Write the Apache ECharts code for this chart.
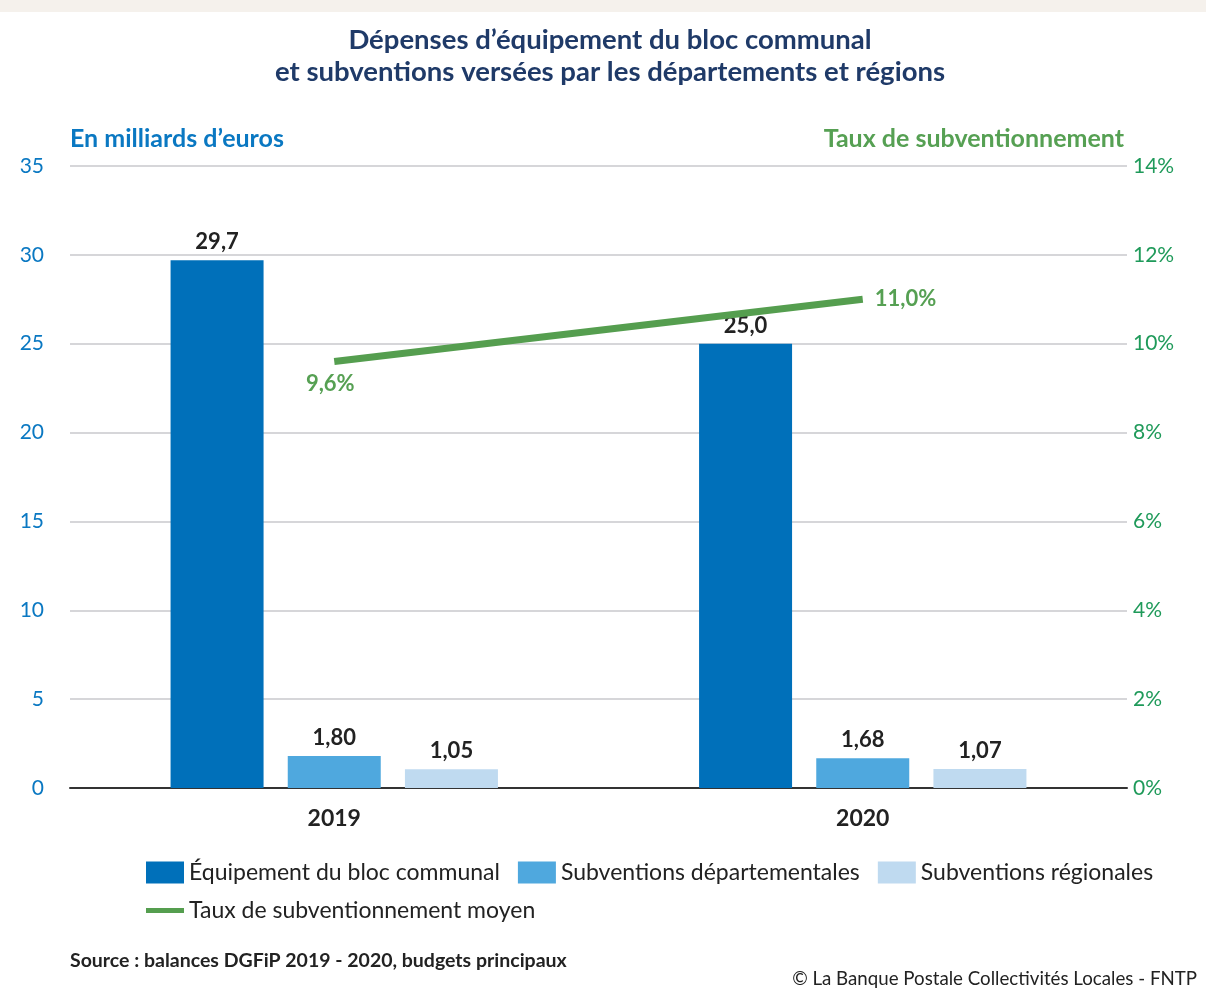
<!DOCTYPE html>
<html>
<head>
<meta charset="utf-8">
<script src="https://cdn.jsdelivr.net/npm/echarts@6/dist/echarts.min.js"></script>
<style>
  html, body { margin: 0; padding: 0; background: #fff; }
  #chart { width: 1206px; height: 1005px; }
</style>
</head>
<body>
<div id="chart"></div>
<script>
const years = ['2019', '2020']
const equipement = [29.7, 25.0]
const subvDep = [1.80, 1.68]
const subvReg = [1.05, 1.07]
const tauxMoyen = [9.6, 11.0]
const leftTicks = { min: 0, max: 35, interval: 5 }
const rightTicks = { min: 0, max: 14, interval: 2 }

const FONT = 'Lato, "Open Sans", sans-serif'
const fr = (v, d) => v.toFixed(d).replace('.', ',')

const chart = echarts.init(document.getElementById('chart'))

function barSeries(name, data, color, decimals) {
  return {
    name: name,
    type: 'bar',
    data: data,
    barWidth: 93,
    barGap: '26%',
    itemStyle: { color: color },
    label: {
      show: true,
      position: 'top',
      distance: 7,
      color: '#222',
      fontFamily: FONT,
      fontWeight: 'bold',
      fontSize: 22,
      formatter: p => fr(p.value, decimals)
    }
  }
}

chart.setOption({
  animation: false,
  textStyle: { fontFamily: FONT },
  title: [{
    text: 'En milliards d’euros',
    left: 70,
    top: 126,
    padding: 0,
    textStyle: { color: '#0a78c2', fontSize: 25, fontWeight: 'bold', fontFamily: FONT }
  }, {
    text: 'Taux de subventionnement',
    right: 82,
    top: 126,
    padding: 0,
    textStyle: { color: '#56a053', fontSize: 25, fontWeight: 'bold', fontFamily: FONT }
  }, {
    text: 'Source : balances DGFiP 2019 - 2020, budgets principaux',
    left: 70,
    top: 951,
    padding: 0,
    textStyle: { color: '#222', fontSize: 19.5, fontWeight: 'bold', fontFamily: FONT }
  }, {
    text: '© La Banque Postale Collectivités Locales - FNTP',
    right: 9,
    top: 969,
    padding: 0,
    textStyle: { color: '#222', fontSize: 18.7, fontWeight: 'normal', fontFamily: FONT }
  }],
  graphic: [{
    type: 'rect',
    left: 0,
    top: 0,
    shape: { width: 1206, height: 12 },
    style: { fill: '#f5f1ec' }
  }, {
    type: 'text',
    x: 610,
    y: 24,
    style: {
      text: 'Dépenses d’équipement du bloc communal\net subventions versées par les départements et régions',
      align: 'center',
      verticalAlign: 'top',
      fill: '#1f3a68',
      font: 'bold 27.5px Lato, sans-serif',
      lineHeight: 32
    }
  }],
  legend: [{
    left: 146,
    top: 861,
    padding: 0,
    itemWidth: 38,
    itemHeight: 22,
    itemGap: 18,
    icon: 'rect',
    textStyle: { color: '#222', fontSize: 23, fontFamily: FONT },
    data: ['Équipement du bloc communal', 'Subventions départementales', 'Subventions régionales']
  }, {
    left: 146,
    top: 899,
    padding: 0,
    itemWidth: 38,
    itemHeight: 5,
    icon: 'rect',
    textStyle: { color: '#222', fontSize: 23, fontFamily: FONT },
    data: ['Taux de subventionnement moyen']
  }],
  grid: { left: 70, right: 79, top: 166, bottom: 217 },
  xAxis: {
    type: 'category',
    data: years,
    axisLine: { lineStyle: { color: '#333', width: 2 } },
    axisTick: { show: false },
    axisLabel: { color: '#222', fontSize: 23, fontWeight: 'bold', margin: 19, fontFamily: FONT }
  },
  yAxis: [{
    type: 'value',
    min: leftTicks.min,
    max: leftTicks.max,
    interval: leftTicks.interval,
    axisLine: { show: false },
    axisTick: { show: false },
    axisLabel: { color: '#0a78c2', fontSize: 21, margin: 26, fontFamily: FONT },
    splitLine: { lineStyle: { color: '#c8c8cc', width: 1.5 } }
  }, {
    type: 'value',
    min: rightTicks.min,
    max: rightTicks.max,
    interval: rightTicks.interval,
    axisLine: { show: false },
    axisTick: { show: false },
    splitLine: { show: false },
    axisLabel: { color: '#1f9a5a', fontSize: 21, margin: 6, fontFamily: FONT, formatter: '{value}%' }
  }],
  series: [
    barSeries('Équipement du bloc communal', equipement, '#0070ba', 1),
    barSeries('Subventions départementales', subvDep, '#4fa8de', 2),
    barSeries('Subventions régionales', subvReg, '#bfdaf0', 2),
    {
      name: 'Taux de subventionnement moyen',
      type: 'line',
      yAxisIndex: 1,
      data: tauxMoyen.map((v, i) => ({
        value: v,
        label: i === 0
          ? { position: 'bottom', distance: 11, offset: [-4, 0] }
          : { position: 'right', distance: 12 }
      })),
      symbol: 'circle',
      symbolSize: 0.1,
      showSymbol: true,
      lineStyle: { color: '#559e4f', width: 7, cap: 'butt' },
      itemStyle: { color: '#559e4f' },
      label: {
        show: true,
        color: '#56a053',
        fontSize: 22,
        fontWeight: 'bold',
        fontFamily: FONT,
        formatter: p => fr(p.value, 1) + '%'
      },
      z: 5
    }
  ]
})
</script>
</body>
</html>
